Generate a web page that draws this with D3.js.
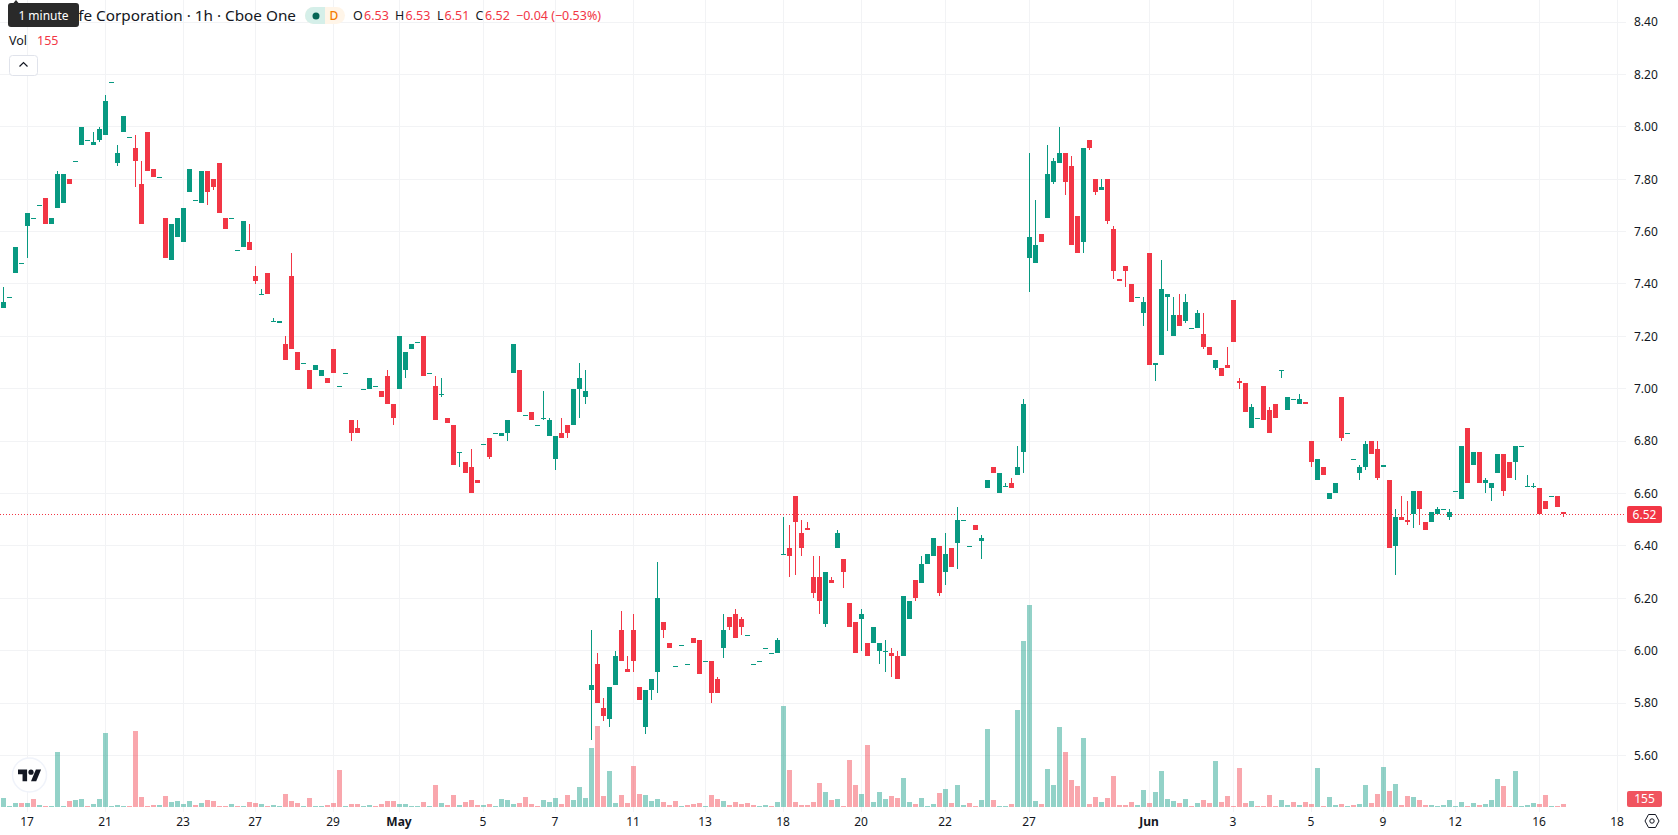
<!DOCTYPE html>
<html>
<head>
<meta charset="utf-8">
<title>Hourly candlestick chart</title>
<script src="https://cdn.jsdelivr.net/npm/d3@7/dist/d3.min.js"></script>
<style>
  html, body { margin: 0; padding: 0; background: #fff; overflow: hidden; }
  svg { display: block; font-family: "Noto Sans", sans-serif; }
  text { fill: #131722; }
</style>
</head>
<body>
<svg id="chart" width="1678" height="835"></svg>
<script>
// Hourly session candles: open, high, low, close, one entry per bar.
const opens = [
  7.31,7.35,7.44,7.48,7.62,7.65,7.70,7.73,7.63,7.69,
  7.71,7.80,7.87,7.93,7.95,7.93,7.95,7.97,8.17,7.86,
  7.98,7.96,7.92,7.78,7.98,7.84,7.81,7.65,7.49,7.58,
  7.56,7.75,7.72,7.71,7.83,7.80,7.86,7.65,7.65,7.53,
  7.54,7.56,7.43,7.36,7.44,7.26,7.25,7.17,7.43,7.14,
  7.10,7.07,7.07,7.05,7.04,7.15,7.01,7.06,6.88,6.85,
  7.00,7.00,7.01,6.99,7.05,6.94,7.00,7.07,7.15,7.18,
  7.20,7.06,7.01,6.98,6.89,6.86,6.76,6.72,6.70,6.65,
  6.79,6.81,6.83,6.82,6.83,7.06,7.07,6.90,6.91,6.86,
  6.89,6.82,6.73,6.83,6.86,6.86,7.00,6.97,5.85,5.95,
  5.78,5.74,5.87,6.08,5.93,6.08,5.86,5.71,5.85,5.92,
  6.11,6.03,5.94,6.02,5.95,6.05,6.04,5.96,5.96,5.89,
  6.01,6.13,6.14,6.12,6.06,5.95,5.96,6.01,5.99,5.99,
  6.37,6.39,6.59,6.45,6.47,6.28,6.28,6.10,6.27,6.39,
  6.35,6.18,6.11,6.12,6.03,6.03,6.00,6.00,5.99,5.98,
  5.98,6.12,6.27,6.26,6.33,6.36,6.40,6.30,6.39,6.41,
  6.50,6.40,6.48,6.42,6.62,6.70,6.60,6.63,6.64,6.67,
  6.76,7.50,7.48,7.59,7.65,7.79,7.86,7.90,7.85,7.66,
  7.56,7.95,7.80,7.76,7.80,7.61,7.42,7.47,7.40,7.35,
  7.29,7.52,7.09,7.13,7.35,7.20,7.28,7.26,7.23,7.23,
  7.21,7.16,7.08,7.08,7.09,7.34,7.03,7.02,6.85,6.89,
  7.01,6.92,6.94,7.07,6.92,6.96,6.94,6.95,6.80,6.65,
  6.70,6.58,6.60,6.97,6.83,6.73,6.68,6.70,6.80,6.77,
  6.70,6.65,6.40,6.51,6.50,6.52,6.61,6.49,6.49,6.52,
  6.54,6.51,6.61,6.58,6.85,6.71,6.76,6.64,6.62,6.68,
  6.75,6.72,6.72,6.78,6.63,6.63,6.62,6.57,6.59,6.59,
  6.53
];
const highs = [
  7.39,7.35,7.54,7.48,7.67,7.65,7.70,7.73,7.65,7.83,
  7.82,7.80,7.87,8.00,7.95,7.98,8.00,8.12,8.17,7.93,
  8.04,7.96,7.97,7.87,7.98,7.84,7.81,7.65,7.63,7.65,
  7.69,7.84,7.72,7.83,7.83,7.80,7.86,7.65,7.65,7.53,
  7.64,7.63,7.47,7.38,7.44,7.27,7.26,7.20,7.52,7.14,
  7.10,7.07,7.09,7.07,7.04,7.15,7.01,7.06,6.88,6.88,
  7.00,7.04,7.01,6.99,7.07,6.94,7.20,7.14,7.17,7.18,
  7.20,7.06,7.05,7.04,6.89,6.86,6.76,6.72,6.77,6.65,
  6.79,6.81,6.83,6.83,6.88,7.17,7.07,6.90,6.91,6.86,
  6.99,6.89,6.82,6.89,6.86,7.00,7.10,7.07,6.08,5.99,
  5.82,5.86,6.00,6.15,5.98,6.14,5.86,5.85,5.89,6.34,
  6.11,6.03,5.94,6.02,5.95,6.05,6.04,5.96,5.96,5.90,
  6.14,6.13,6.16,6.13,6.06,5.95,5.96,6.01,5.99,6.05,
  6.51,6.48,6.59,6.50,6.49,6.36,6.36,6.30,6.28,6.46,
  6.35,6.18,6.11,6.16,6.03,6.09,6.03,6.04,6.01,6.00,
  6.21,6.19,6.27,6.36,6.37,6.43,6.40,6.45,6.39,6.55,
  6.50,6.40,6.48,6.44,6.65,6.70,6.68,6.64,6.66,6.78,
  6.96,7.90,7.72,7.59,7.93,7.88,8.00,7.90,7.89,7.66,
  7.92,7.95,7.80,7.80,7.80,7.62,7.42,7.47,7.40,7.35,
  7.35,7.52,7.10,7.49,7.36,7.35,7.36,7.36,7.23,7.30,
  7.29,7.16,7.11,7.08,7.16,7.34,7.04,7.02,6.94,6.89,
  7.01,6.93,6.94,7.07,6.97,6.96,6.98,6.95,6.80,6.73,
  6.70,6.60,6.64,6.97,6.83,6.73,6.71,6.80,6.80,6.80,
  6.71,6.65,6.54,6.59,6.57,6.61,6.61,6.49,6.53,6.55,
  6.54,6.54,6.61,6.78,6.85,6.76,6.76,6.66,6.64,6.75,
  6.75,6.72,6.78,6.78,6.67,6.64,6.62,6.57,6.59,6.59,
  6.53
];
const lows = [
  7.31,7.35,7.44,7.48,7.50,7.65,7.70,7.63,7.63,7.69,
  7.71,7.78,7.87,7.93,7.95,7.93,7.94,7.97,8.17,7.85,
  7.98,7.96,7.77,7.63,7.83,7.81,7.81,7.50,7.49,7.58,
  7.56,7.75,7.72,7.71,7.70,7.76,7.67,7.61,7.65,7.53,
  7.54,7.53,7.40,7.36,7.36,7.26,7.25,7.11,7.15,7.07,
  7.10,7.00,7.07,7.05,7.02,7.06,7.01,7.06,6.80,6.83,
  7.00,7.00,7.01,6.97,6.94,6.86,7.00,7.04,7.15,7.18,
  7.05,7.06,6.88,6.97,6.87,6.71,6.70,6.68,6.60,6.64,
  6.79,6.73,6.83,6.82,6.80,7.06,6.91,6.90,6.88,6.86,
  6.88,6.82,6.69,6.81,6.81,6.86,6.89,6.94,5.66,5.80,
  5.73,5.71,5.87,5.96,5.92,5.92,5.81,5.68,5.81,5.84,
  6.05,6.01,5.94,6.02,5.95,6.03,5.91,5.96,5.80,5.84,
  5.97,6.08,6.05,6.06,6.06,5.95,5.96,6.01,5.99,5.99,
  6.37,6.28,6.29,6.36,6.46,6.20,6.14,6.09,6.26,6.39,
  6.24,6.09,5.99,6.00,5.98,6.03,5.95,5.92,5.90,5.89,
  5.98,6.12,6.19,6.26,6.33,6.36,6.21,6.25,6.32,6.31,
  6.50,6.40,6.46,6.35,6.62,6.68,6.60,6.63,6.62,6.67,
  6.68,7.37,7.48,7.56,7.65,7.78,7.86,7.74,7.55,7.52,
  7.52,7.91,7.74,7.76,7.63,7.42,7.41,7.39,7.33,7.35,
  7.24,7.09,7.03,7.13,7.22,7.20,7.24,7.25,7.23,7.23,
  7.15,7.13,7.07,7.05,7.08,7.18,7.00,6.91,6.85,6.89,
  6.88,6.83,6.89,7.04,6.92,6.96,6.94,6.94,6.70,6.65,
  6.67,6.58,6.60,6.80,6.83,6.73,6.65,6.69,6.75,6.65,
  6.70,6.39,6.29,6.50,6.48,6.47,6.48,6.46,6.49,6.52,
  6.54,6.50,6.61,6.58,6.64,6.71,6.64,6.60,6.57,6.68,
  6.59,6.66,6.65,6.78,6.63,6.62,6.52,6.54,6.59,6.55,
  6.51
];
const closes = [
  7.33,7.35,7.54,7.48,7.67,7.65,7.70,7.63,7.65,7.82,
  7.82,7.78,7.87,8.00,7.95,7.94,7.99,8.10,8.17,7.90,
  8.04,7.96,7.87,7.63,7.83,7.81,7.81,7.50,7.63,7.65,
  7.69,7.84,7.72,7.83,7.75,7.77,7.67,7.61,7.65,7.53,
  7.64,7.53,7.41,7.36,7.36,7.26,7.26,7.11,7.15,7.07,
  7.10,7.00,7.09,7.07,7.02,7.06,7.01,7.06,6.83,6.83,
  7.00,7.04,7.01,6.97,6.94,6.89,7.20,7.14,7.17,7.18,
  7.05,7.06,6.88,6.98,6.87,6.71,6.76,6.68,6.60,6.64,
  6.79,6.74,6.83,6.83,6.88,7.17,6.91,6.90,6.88,6.86,
  6.89,6.88,6.82,6.81,6.83,7.00,7.04,6.99,5.87,5.80,
  5.75,5.86,5.98,5.96,5.92,5.96,5.81,5.85,5.89,6.20,
  6.08,6.01,5.94,6.02,5.95,6.03,5.91,5.96,5.84,5.84,
  6.08,6.09,6.05,6.09,6.06,5.95,5.96,6.01,5.99,6.04,
  6.37,6.36,6.49,6.39,6.46,6.22,6.19,6.30,6.26,6.45,
  6.30,6.09,5.99,6.14,5.98,6.09,6.03,6.00,5.98,5.89,
  6.21,6.19,6.20,6.33,6.37,6.43,6.22,6.37,6.32,6.50,
  6.50,6.40,6.46,6.43,6.65,6.68,6.68,6.63,6.62,6.70,
  6.94,7.58,7.55,7.56,7.82,7.87,7.90,7.79,7.55,7.52,
  7.92,7.92,7.75,7.77,7.64,7.45,7.41,7.45,7.33,7.35,
  7.33,7.09,7.10,7.38,7.36,7.28,7.24,7.33,7.23,7.29,
  7.16,7.13,7.11,7.05,7.08,7.18,7.02,6.91,6.93,6.89,
  6.88,6.83,6.89,7.07,6.97,6.96,6.96,6.94,6.72,6.73,
  6.67,6.60,6.64,6.81,6.83,6.73,6.70,6.79,6.75,6.66,
  6.71,6.39,6.51,6.50,6.49,6.61,6.54,6.46,6.53,6.54,
  6.54,6.53,6.61,6.78,6.64,6.76,6.64,6.65,6.64,6.75,
  6.61,6.66,6.78,6.78,6.63,6.63,6.52,6.54,6.59,6.55,
  6.52
];

// Traded volume for the same bars, and the bars whose volume is marked as falling.
const volumes = [
  450,30,200,200,200,400,100,50,50,2750,
  50,300,350,400,50,150,400,3700,50,100,
  50,50,3800,500,50,100,100,550,250,300,
  150,300,100,200,350,300,50,50,150,50,
  50,250,200,150,50,100,50,650,300,200,
  50,450,50,50,100,200,1850,50,150,150,
  50,100,50,150,300,300,150,150,50,50,
  250,50,1100,200,100,600,100,250,350,100,
  100,150,50,400,350,150,200,500,150,50,
  350,250,450,150,600,350,1000,450,2950,4050,
  550,1800,200,600,200,2050,650,600,300,400,
  250,100,300,50,100,150,200,50,600,400,
  300,100,250,150,200,100,50,100,50,250,
  5050,1850,250,100,100,250,1200,750,350,400,
  50,2350,1100,650,3100,250,750,400,550,450,
  1450,250,150,450,50,150,700,900,200,1100,
  100,200,50,350,3900,350,50,50,150,4850,
  8300,10100,300,150,1900,1100,4000,2750,1350,1050,
  3450,150,500,250,450,1550,100,100,250,100,
  850,200,750,1800,400,300,200,400,50,200,
  350,200,2300,250,550,50,1950,200,300,50,
  50,600,50,350,100,250,100,250,150,1950,
  50,500,100,150,50,100,150,1100,200,650,
  2000,800,1150,100,550,500,350,100,100,50,
  100,350,50,250,50,200,100,150,350,1400,
  1050,50,1800,50,100,200,150,600,50,50,
  155
];
const fallingVolumeBars = [
  3,5,7,11,14,21,22,23,24,25,27,32,34,35,36,37,39,41,42,44,47,48,49,51,54,55,56,58,59,
  62,63,64,65,70,72,74,75,77,78,79,81,86,87,88,89,93,94,99,100,103,104,105,106,110,111,
  112,114,115,116,118,119,121,122,123,124,125,128,131,132,133,134,135,136,138,140,141,
  142,144,148,149,152,156,158,161,162,165,168,173,177,178,179,181,182,184,185,186,187,
  188,191,196,198,200,201,203,204,205,206,207,209,210,211,212,215,217,218,220,223,225,
  228,229,231,233,234,236,237,244,246,250,251,256,257,259,260
];

// Axis ticks.
const priceTicks = [5.6,5.8,6.0,6.2,6.4,6.6,6.8,7.0,7.2,7.4,7.6,7.8,8.0,8.2,8.4];
const dateTickBars = [4,17,30,42,55,66,80,92,105,117,130,143,157,171,191,205,218,230,242,256,269];
const dateTickLabels = ["17","21","23","27","29","May","5","7","11","13","18","20","22","27","Jun","3","5","9","12","16","18"];
const monthLabels = ["May","Jun"];

// Header readout.
const titleText = "Life Corporation · 1h · Cboe One";
const lastPrice = 6.52;
const lastVolume = 155;
const ohlcReadout = [["O","6.53"],["H","6.53"],["L","6.51"],["C","6.52"]];
const changeReadout = "−0.04 (−0.53%)";

const UP = "#089981", DOWN = "#f23645", GRID = "#f2f3f5", PANE_RIGHT = 1626, PANE_BOTTOM = 812;

const svg = d3.select("#chart");
const x = d3.scaleLinear().domain([0, 100]).range([3.5, 603.5]);
const y = d3.scaleLinear().domain([8.2, 5.6]).range([74.4, 755.4]);
const yVolume = d3.scaleLinear().domain([0, 5000]).range([807, 707]);

const bars = opens.map((open, i) => ({
  i, open, high: highs[i], low: lows[i], close: closes[i], volume: volumes[i],
  volumeFalling: fallingVolumeBars.includes(i)
}));

// Grid
const grid = svg.append("g");
grid.selectAll(".h").data(priceTicks).join("line")
  .attr("x1", 0).attr("x2", PANE_RIGHT)
  .attr("y1", d => Math.floor(y(d)) + 0.5).attr("y2", d => Math.floor(y(d)) + 0.5)
  .attr("stroke", GRID);
grid.selectAll(".v").data(dateTickBars).join("line")
  .attr("y1", 0).attr("y2", PANE_BOTTOM)
  .attr("x1", d => Math.floor(x(d)) + 0.5).attr("x2", d => Math.floor(x(d)) + 0.5)
  .attr("stroke", GRID);

// Volume histogram sits behind the candles
svg.append("g").selectAll("rect").data(bars).join("rect")
  .attr("x", d => Math.floor(x(d.i)) - 2).attr("width", 5)
  .attr("y", d => Math.round(yVolume(d.volume)))
  .attr("height", d => yVolume(0) - Math.round(yVolume(d.volume)))
  .attr("fill", d => d.volumeFalling ? DOWN : UP)
  .attr("fill-opacity", 0.44);

// Last price line
svg.append("line")
  .attr("x1", 0).attr("x2", PANE_RIGHT)
  .attr("y1", Math.floor(y(lastPrice)) + 0.5).attr("y2", Math.floor(y(lastPrice)) + 0.5)
  .attr("stroke", DOWN).attr("stroke-width", 1).attr("stroke-dasharray", "1 2");

// Candles
const colour = d => d.close >= d.open ? UP : DOWN;
const candles = svg.append("g").selectAll("g").data(bars).join("g");
candles.append("rect")
  .attr("x", d => Math.floor(x(d.i))).attr("width", 1)
  .attr("y", d => Math.round(y(d.high)))
  .attr("height", d => Math.max(0, Math.round(y(d.low)) - Math.round(y(d.high))))
  .attr("fill", colour);
candles.append("rect")
  .attr("x", d => Math.floor(x(d.i)) - 2).attr("width", 5)
  .attr("y", d => Math.round(y(Math.max(d.open, d.close))))
  .attr("height", d => Math.max(1, Math.round(y(Math.min(d.open, d.close))) - Math.round(y(Math.max(d.open, d.close)))))
  .attr("fill", colour);

// Price axis
const priceAxis = svg.append("g")
  .attr("transform", `translate(${PANE_RIGHT},0)`)
  .call(d3.axisRight(y).tickValues(priceTicks).tickFormat(d3.format(".2f")).tickSize(0).tickPadding(8));
priceAxis.select(".domain").remove();
priceAxis.selectAll("text").style("font-size", "12px").style("fill", "#131722");

// Date axis
const dateAxis = svg.append("g")
  .attr("transform", `translate(-1,${PANE_BOTTOM})`)
  .call(d3.axisBottom(x).tickValues(dateTickBars)
    .tickFormat((d, i) => dateTickLabels[i]).tickSize(0).tickPadding(5));
dateAxis.select(".domain").remove();
dateAxis.selectAll("text").style("font-size", "12px").style("fill", "#131722")
  .style("font-weight", (d, i) => monthLabels.includes(dateTickLabels[i]) ? 700 : 400);
svg.selectAll("g").attr("font-family", null);

// Badges on the price axis
function badge(yTop, h, fill, label) {
  svg.append("rect").attr("x", 1627).attr("y", yTop).attr("width", 35).attr("height", h)
    .attr("rx", 2).attr("fill", fill);
  svg.append("text").attr("x", 1644.5).attr("y", yTop + h / 2).attr("dy", "0.35em")
    .attr("text-anchor", "middle").style("fill", "#fff").style("font-size", "12px").text(label);
}
badge(Math.round(y(lastPrice)) - 8, 17, DOWN, d3.format(".2f")(lastPrice));
badge(791, 16, "#f0545f", String(lastVolume));

// Header: symbol title, market status pill, OHLC readout
svg.append("text").attr("x", 296).attr("y", 16).attr("dy", "0.35em").attr("text-anchor", "end")
  .style("font-size", "15.3px").text(titleText);

svg.append("rect").attr("x", 305).attr("y", 7).attr("width", 40).attr("height", 17).attr("rx", 8.5).attr("fill", "#fff5e8");
svg.append("path").attr("d", "M325 7H313.5a8.5 8.5 0 0 0 0 17H325Z").attr("fill", "#d5efe9");
svg.append("circle").attr("cx", 316).attr("cy", 16).attr("r", 3.5).attr("fill", "#056656");
svg.append("text").attr("x", 334).attr("y", 16).attr("dy", "0.35em").attr("text-anchor", "middle")
  .style("fill", "#f57c00").style("font-size", "12px").style("font-weight", 500).text("D");

const readoutX = [[353, 364], [395, 405.5], [437, 444.5], [475.5, 485]];
ohlcReadout.forEach(([name, value], i) => {
  svg.append("text").attr("x", readoutX[i][0]).attr("y", 16).attr("dy", "0.35em")
    .style("font-size", "12.5px").text(name);
  svg.append("text").attr("x", readoutX[i][1]).attr("y", 16).attr("dy", "0.35em")
    .style("font-size", "12.5px").style("fill", DOWN).text(value);
});
svg.append("text").attr("x", 516).attr("y", 16).attr("dy", "0.35em")
  .style("font-size", "12.5px").style("fill", DOWN).text(changeReadout);

svg.append("text").attr("x", 9).attr("y", 40.5).attr("dy", "0.35em").style("font-size", "12.5px").text("Vol");
svg.append("text").attr("x", 37).attr("y", 40.5).attr("dy", "0.35em")
  .style("font-size", "12.5px").style("fill", DOWN).text(String(lastVolume));

// Collapse button under the legend
svg.append("rect").attr("x", 9.5).attr("y", 55.5).attr("width", 28).attr("height", 20).attr("rx", 3)
  .attr("fill", "#fff").attr("stroke", "#e0e3eb");
svg.append("path").attr("d", "M19.5 66.5l4-4 4 4").attr("fill", "none").attr("stroke", "#131722").attr("stroke-width", 1.2);

// Hover tooltip covering the start of the title
svg.append("path").attr("d", "M11 27a3 3 0 0 1-3-3V6a3 3 0 0 1 3-3h2.5L16 0l2.5 3H76a3 3 0 0 1 3 3V24a3 3 0 0 1-3 3Z")
  .attr("fill", "#2a2a2a");
svg.append("text").attr("x", 43.5).attr("y", 16).attr("dy", "0.35em").attr("text-anchor", "middle")
  .style("fill", "#fff").style("font-size", "12px").text("1 minute");

// Attribution mark in the lower left
svg.append("circle").attr("cx", 29.5).attr("cy", 775).attr("r", 17).attr("fill", "#fff").attr("stroke", "#f0f3fa").attr("stroke-width", 1.5);
const logo = svg.append("g").attr("transform", "translate(18,767) scale(0.65)").attr("fill", "#131722");
logo.append("path").attr("d", "M14 22H7V11H0V4h14v18zM28 22h-8l7.5-18h8L28 22z");
logo.append("circle").attr("cx", 20).attr("cy", 8).attr("r", 4);

// Axis settings icon
svg.append("path").attr("d", "M1645 821l3.5-6.5h7l3.5 6.5-3.5 6.5h-7Z").attr("fill", "none").attr("stroke", "#131722");
svg.append("circle").attr("cx", 1652).attr("cy", 821).attr("r", 2.2).attr("fill", "none").attr("stroke", "#131722");
</script>
</body>
</html>
